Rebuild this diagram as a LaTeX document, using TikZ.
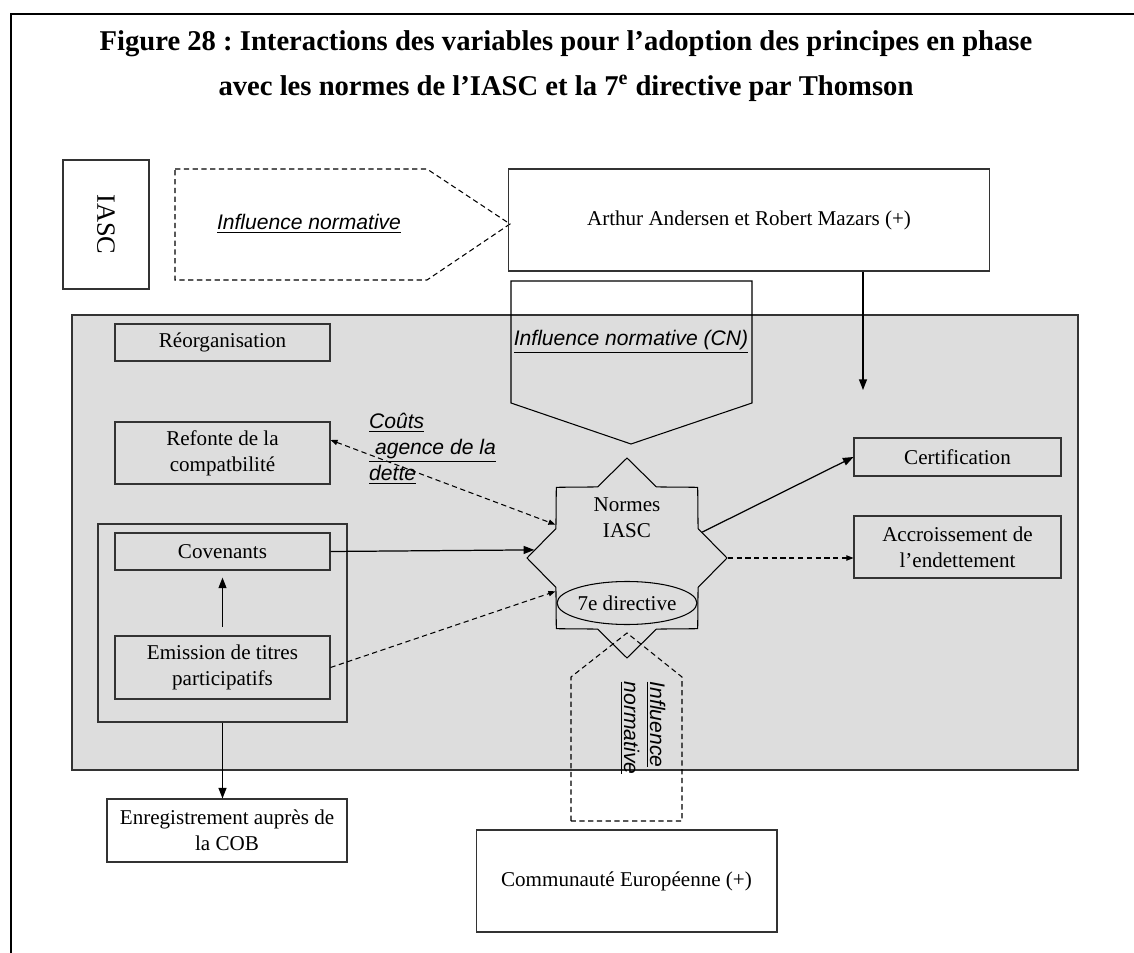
\documentclass[tikz,border=0pt]{standalone}
\usepackage{fontspec}
\setmainfont{Liberation Serif}
\setsansfont{Liberation Sans}
\usetikzlibrary{arrows.meta,shapes.geometric}
\definecolor{fond}{HTML}{DDDDDD}
\frenchspacing
\begin{document}
\begin{tikzpicture}[x=0.02cm,y=-0.02cm,font=\fontsize{12}{14.8}\selectfont,
	boite/.style={draw=black!80,line width=0.6pt,align=center,inner sep=2pt},
	fleche/.style={line width=0.7pt,-{Triangle[length=6pt,width=4.5pt]}},
	tiret/.style={line width=0.6pt,dash pattern=on 3pt off 2pt},
	flechet/.style={tiret,-{Triangle[length=4pt,width=3pt]}},
	infl/.style={font=\fontsize{12}{14.8}\selectfont\sffamily\itshape,align=left}]
	\useasboundingbox (0,0) rectangle (1134,953);
	% cadre et titre
	\draw[line width=1.7pt] (1134,14) -- (11,14) -- (11,953);
	\node[font=\fontsize{16.3}{25.6}\selectfont\bfseries,align=center] (titre) at (566,66)
	{Figure 28 : Interactions des variables pour l’adoption des principes en phase\\
		avec les normes de l’IASC et la 7\textsuperscript{e} directive par Thomson};
	% zone grise
	\fill[fond,draw=black!80,line width=0.6pt] (72,315) rectangle (1078,770);
	% fleches d'influence
	\draw[tiret] (175,169) -- (427,169) -- (510,224) -- (427,280) -- (175,280) -- cycle;
	\draw[line width=0.6pt] (511,281) -- (752,281) -- (752,403) -- (631,444) -- (511,403) -- cycle;
	\draw[tiret] (571,821) -- (571,677) -- (627,633) -- (682,677) -- (682,821) -- cycle;
	\node[infl] (infl1) at (309,224) {\underline{Influence normative}};
	\node[infl] (inflcn) at (631,342) {\underline{Influence normative (CN)}};
	\node[infl,rotate=-90] (infl3) at (643,728) {\underline{Influence}\\\underline{normative}};
	\node[infl,anchor=west] (couts) at (363,449) {\underline{Coûts}\\\underline{ agence de la}\\\underline{dette}};
	% boites
	\node[boite,minimum width=2.58cm,minimum height=1.72cm,rotate=-90,font=\fontsize{15}{18}\selectfont] (iasc) at (106,224.5) {IASC};
	\node[boite,minimum width=9.64cm,minimum height=2.04cm] (arthur) at (749,220) {Arthur Andersen et Robert Mazars (+)};
	\node[boite,minimum width=4.3cm,minimum height=0.74cm] (reorg) at (222.5,342.5) {Réorganisation};
	\node[boite,minimum width=4.3cm,minimum height=1.24cm] (refonte) at (222.5,453) {Refonte de la\\compatbilité};
	\node[boite,minimum width=4.98cm,minimum height=3.96cm] (grp) at (222.5,623) {};
	\node[boite,minimum width=4.3cm,minimum height=0.74cm] (cov) at (222.5,551.5) {Covenants};
	\node[boite,minimum width=4.3cm,minimum height=1.26cm] (emis) at (222.5,667.5) {Emission de titres\\participatifs};
	\node[boite,minimum width=4.14cm,minimum height=0.76cm] (cert) at (957.5,457) {Certification};
	\node[boite,minimum width=4.14cm,minimum height=1.24cm] (acc) at (957.5,547) {Accroissement de\\l’endettement};
	\node[boite,minimum width=4.8cm,minimum height=1.26cm] (enreg) at (227,830.5) {Enregistrement auprès de\\la COB};
	\node[boite,minimum width=6.02cm,minimum height=2.04cm] (comm) at (626.5,881) {Communauté Européenne (+)};
	% normes
	\node[draw=black,line width=0.6pt,star,star points=8,star point ratio=1.3,minimum size=4cm,inner sep=0pt] (normes) at (627,558) {};
	\node[align=center] (normtxt) at (627,518) {Normes\\IASC};
	\node[draw=black,line width=0.6pt,ellipse,minimum width=2.22cm,minimum height=0.86cm,inner sep=0pt] (dir) at (627,603) {7e directive};
	% liens
	\coordinate (fin) at (863,390);
	\draw[fleche] (fin |- arthur.south) -- (fin);
	\draw[fleche] (cov.east) -- (normes.175);
	\draw[flechet] (emis.east) -- (normes.205);
	\draw[tiret,{Triangle[length=4pt,width=3pt]}-{Triangle[length=4pt,width=3pt]}] ([yshift=0.26cm]refonte.east) -- (normes.155);
	\draw[fleche] (normes.19) -- (cert.west);
	\draw[flechet] (normes.east) -- (normes.east -| acc.west);
	\draw[fleche,shorten <=5pt,shorten >=4pt] (emis.north) -- (cov.south);
	\draw[fleche] (grp.south) -- (grp.south |- enreg.north);
\end{tikzpicture}
\end{document}
